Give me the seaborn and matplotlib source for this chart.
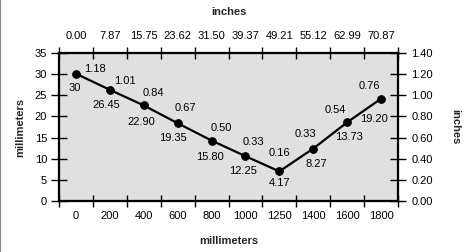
import numpy as np
import pandas as pd
import matplotlib
matplotlib.use("Agg")
import matplotlib.pyplot as plt
import seaborn as sns
from matplotlib.lines import Line2D

# ---- data ----
mm_tick_labels = ["0", "200", "400", "600", "800", "1000", "1250", "1400", "1600", "1800"]
inch_tick_labels = ["0.00", "7.87", "15.75", "23.62", "31.50", "39.37", "49.21", "55.12", "62.99", "70.87"]
point_mm = [30.1, 26.3, 22.6, 18.4, 14.3, 10.6, 7.0, 12.4, 18.6, 24.2]
mm_labels = ["30", "26.45", "22.90", "19.35", "15.80", "12.25", "4.17", "8.27", "13.73", "19.20"]
inch_labels = ["1.18", "1.01", "0.84", "0.67", "0.50", "0.33", "0.16", "0.33", "0.54", "0.76"]
left_ticks = [0, 5, 10, 15, 20, 25, 30, 35]
right_ticks = [0.0, 0.2, 0.4, 0.6, 0.8, 1.0, 1.2, 1.4]

# label offsets in pixels (dx, dy up)
inch_off = [(19, 5), (15, 9), (10, 12), (8, 15), (10, 13), (8, 14), (0, 18), (-8, 15), (-12, 12), (-12, 13)]
mm_off = [(-1, -14), (-4, -15), (-2, -17), (-5, -15), (-2, -16), (-2, -15), (0, -12), (3, -15), (2, -15), (-7, -20)]

sns.set_style("white")
plt.rcParams["font.family"] = ["Liberation Sans", "DejaVu Sans"]
plt.rcParams["font.size"] = 8
plt.rcParams["text.color"] = "black"
plt.rcParams["xtick.color"] = "black"
plt.rcParams["ytick.color"] = "black"

fig = plt.figure(figsize=(4.75, 2.52), dpi=100)
ax = fig.add_axes([59 / 475, 1 - 201 / 252, (398 - 59) / 475, (201 - 53) / 252])
ax.set_facecolor("#e0e0e0")

n = len(mm_tick_labels)
df = pd.DataFrame({"pos": np.arange(n) + 0.5, "mm": point_mm})
sns.lineplot(data=df, x="pos", y="mm", ax=ax, color="black", linewidth=1.6,
             marker="o", markersize=5.5, markeredgecolor="black", markerfacecolor="black")

for i in range(n):
    ax.annotate(inch_labels[i], (i + 0.5, point_mm[i]), xytext=inch_off[i],
                textcoords="offset pixels", ha="center", va="center", fontsize=8)
    ax.annotate(mm_labels[i], (i + 0.5, point_mm[i]), xytext=mm_off[i],
                textcoords="offset pixels", ha="center", va="center", fontsize=8)

ax.set_xlim(0, n)
ax.set_ylim(0, 35)
ax.set_xlabel("millimeters", fontweight="bold", fontsize=8, labelpad=11)
ax.set_ylabel("millimeters", fontweight="bold", fontsize=8, labelpad=7)

# bottom axis: tick marks at integers, labels at midpoints
ax.set_xticks(np.arange(n + 1))
ax.set_xticklabels([])
ax.set_xticks(np.arange(n) + 0.5, minor=True)
ax.set_xticklabels(mm_tick_labels, minor=True)
ax.tick_params(axis="x", which="major", bottom=True, direction="inout", length=9, width=1, color="black")
ax.tick_params(axis="x", which="minor", bottom=True, length=0, pad=7, labelsize=8)
ax.set_yticks(left_ticks)
ax.tick_params(axis="y", left=True, direction="inout", length=11, width=1, color="black", pad=3, labelsize=8)

# top axis
axt = ax.twiny()
axt.set_xlim(0, n)
axt.set_xticks(np.arange(n + 1))
axt.set_xticklabels([])
axt.set_xticks(np.arange(n) + 0.5, minor=True)
axt.set_xticklabels(inch_tick_labels, minor=True)
axt.tick_params(axis="x", which="major", top=True, direction="inout", length=9, width=1, color="black")
axt.tick_params(axis="x", which="minor", top=True, length=0, pad=9, labelsize=8)
axt.set_xlabel("inches", fontweight="bold", fontsize=8, labelpad=11)

# right axis
axr = ax.twinx()
axr.set_ylim(0, 1.4)
axr.set_yticks(right_ticks)
axr.set_yticklabels([f"{v:.2f}" for v in right_ticks])
axr.tick_params(axis="y", right=True, direction="inout", length=11, width=1, color="black", pad=4, labelsize=8)
axr.set_ylabel("inches", fontweight="bold", fontsize=8, rotation=270, labelpad=20)

for a in (ax, axt, axr):
    for s in a.spines.values():
        s.set_visible(True)
        s.set_color("black")
        s.set_linewidth(1.5)

fig.add_artist(Line2D([0.001, 0.001], [0, 1], transform=fig.transFigure, color="#888888", linewidth=1.5))

fig.savefig("out.png", dpi=100, facecolor="white")
